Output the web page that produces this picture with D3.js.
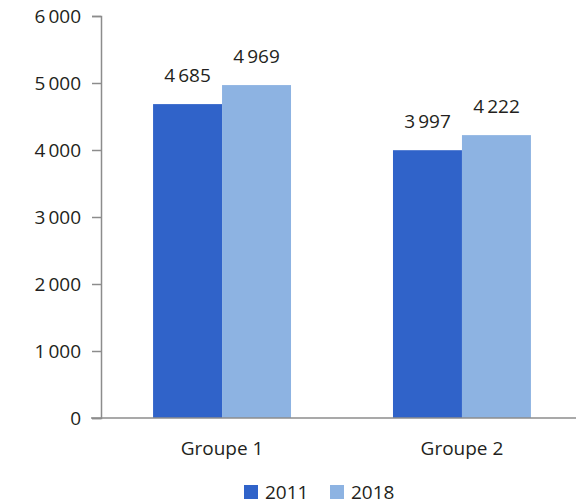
<!DOCTYPE html>
<html>
<head>
<meta charset="utf-8">
<script src="https://cdn.jsdelivr.net/npm/d3@7"></script>
<style>
  body { margin: 0; background: #fff; }
  svg text { font-family: 'Open Sans', sans-serif; fill: #231f20; }
</style>
</head>
<body>
<div id="chart"></div>
<script>
const groups = ['Groupe 1', 'Groupe 2'];
const years = ['2011', '2018'];
const values2011 = [4685, 3997];
const values2018 = [4969, 4222];
const yTicks = [0, 1000, 2000, 3000, 4000, 5000, 6000];
const colors = ['#3063c9', '#8db3e2'];

const width = 576, height = 504;
const fmt = d3.formatLocale({ decimal: ',', thousands: '\u2009', grouping: [3], currency: ['', ''] }).format(',d');

const svg = d3.select('#chart').append('svg')
  .attr('width', width)
  .attr('height', height);

const y = d3.scaleLinear().domain([0, 6000]).range([418, 16]);
const x0 = d3.scaleBand().domain(groups).range([101, 583])
  .paddingInner(0.425).paddingOuter(0.217);
const x1 = d3.scaleBand().domain(years).range([0, x0.bandwidth()]);

const rows = groups.map((g, i) => ({ group: g, vals: [values2011[i], values2018[i]] }));

// bars
const g = svg.selectAll('g.grp')
  .data(rows)
  .enter().append('g')
  .attr('class', 'grp')
  .attr('transform', d => 'translate(' + x0(d.group) + ',0)');

g.selectAll('rect')
  .data(d => d.vals.map((v, j) => ({ year: years[j], v: v, j: j })))
  .enter().append('rect')
  .attr('x', d => x1(d.year))
  .attr('y', d => y(d.v))
  .attr('width', x1.bandwidth())
  .attr('height', d => y(0) - y(d.v))
  .attr('fill', d => colors[d.j]);

g.selectAll('text.val')
  .data(d => d.vals.map((v, j) => ({ year: years[j], v: v })))
  .enter().append('text')
  .attr('class', 'val')
  .attr('x', d => x1(d.year) + x1.bandwidth() / 2)
  .attr('y', d => y(d.v) - 22)
  .attr('text-anchor', 'middle')
  .style('font-size', '19px')
  .text(d => fmt(d.v));

// y axis
const yAxis = d3.axisLeft(y).tickValues(yTicks).tickSize(9).tickPadding(11)
  .tickFormat(fmt);
const ya = svg.append('g')
  .attr('transform', 'translate(101,0)')
  .call(yAxis);
ya.select('.domain').attr('stroke', '#8c8c8c').attr('stroke-width', 1.5);
ya.selectAll('.tick line').attr('stroke', '#8c8c8c').attr('stroke-width', 1.5);
ya.selectAll('.tick text').style('font-size', '19px').attr('fill', '#231f20')
  .style('font-family', "'Open Sans', sans-serif");

// baseline
svg.append('line')
  .attr('x1', 91).attr('x2', 576)
  .attr('y1', y(0)).attr('y2', y(0))
  .attr('stroke', '#8c8c8c').attr('stroke-width', 1.5);

// x labels
svg.selectAll('text.cat')
  .data(groups)
  .enter().append('text')
  .attr('class', 'cat')
  .attr('x', d => x0(d) + x0.bandwidth() / 2)
  .attr('y', 455)
  .attr('text-anchor', 'middle')
  .style('font-size', '19px')
  .text(d => d);

// legend
const legend = svg.append('g').attr('class', 'legend');
const legX = [244, 330];
years.forEach((yr, i) => {
  legend.append('rect')
    .attr('x', legX[i]).attr('y', 485)
    .attr('width', 14).attr('height', 14)
    .attr('fill', colors[i]);
  legend.append('text')
    .attr('x', legX[i] + 21).attr('y', 499)
    .style('font-size', '19px')
    .text(yr);
});
</script>
</body>
</html>
